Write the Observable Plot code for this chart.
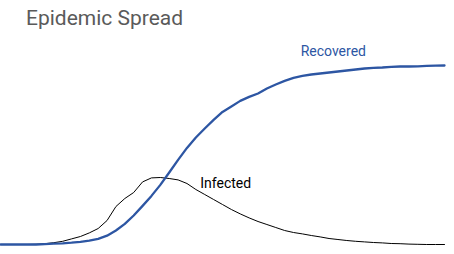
<!DOCTYPE html>
<html>
<head>
<meta charset="utf-8">
<script src="https://cdn.jsdelivr.net/npm/d3@7"></script>
<script src="https://cdn.jsdelivr.net/npm/@observablehq/plot@0.6"></script>
<style>
  html, body { margin: 0; padding: 0; background: #fff; }
  #title {
    box-sizing: border-box;
    height: 30px;
    padding: 8px 0 0 26px;
    font-family: Roboto, sans-serif;
    font-size: 21px;
    line-height: 21px;
    color: #5a5a5a;
    white-space: nowrap;
  }
</style>
</head>
<body>
<div id="title">Epidemic Spread</div>
<div id="chart"></div>
<script>
// Day index (every 2 days)
const days = d3.range(0, 101, 2);
// People recovered (out of 1000)
const recovered = [0, 0, 0, 0, 0, 2, 4, 6, 9, 13, 19, 28, 44, 70, 103, 145, 193, 243, 298, 360,
  423, 483, 535, 580, 623, 663, 690, 718, 738, 755, 780, 800, 818, 833, 843, 850, 855, 860, 865, 870,
  875, 880, 883, 885, 888, 890, 890, 891, 893, 894, 895];
// People currently infected
const infected = [0, 0, 0, 0, 1, 4, 9, 16, 28, 40, 58, 80, 120, 190, 230, 260, 313, 333, 335, 330,
  323, 305, 275, 250, 225, 200, 175, 153, 133, 115, 100, 85, 70, 60, 53, 45, 38, 30, 25, 20,
  16, 13, 10, 8, 5, 4, 2, 1, 0, 0, 0];
const seriesNames = ["Recovered", "Infected"];

const blue = "#2d56a3";
const rows = (vals) => days.map((d, i) => ({day: d, value: vals[i]}));

const chart = Plot.plot({
  width: 454,
  height: 224,
  marginLeft: 0,
  marginRight: 10,
  marginTop: 14,
  marginBottom: 10,
  style: {fontFamily: "Roboto, sans-serif", fontSize: "14px", background: "#fff"},
  x: {domain: [0, 100], axis: null},
  y: {domain: [0, 1000], axis: null},
  marks: [
    Plot.line(rows(infected), {x: "day", y: "value", stroke: "#000", strokeWidth: 1}),
    Plot.line(rows(recovered), {x: "day", y: "value", stroke: blue, strokeWidth: 2.3}),
    Plot.text([seriesNames[0]], {x: [67.6], y: [945], text: d => d, fill: blue, textAnchor: "start", lineAnchor: "bottom", fontSize: 14}),
    Plot.text([seriesNames[1]], {x: [45], y: [282], text: d => d, fill: "#000", textAnchor: "start", lineAnchor: "bottom", fontSize: 14})
  ]
});
document.getElementById("chart").appendChild(chart);
</script>
</body>
</html>
